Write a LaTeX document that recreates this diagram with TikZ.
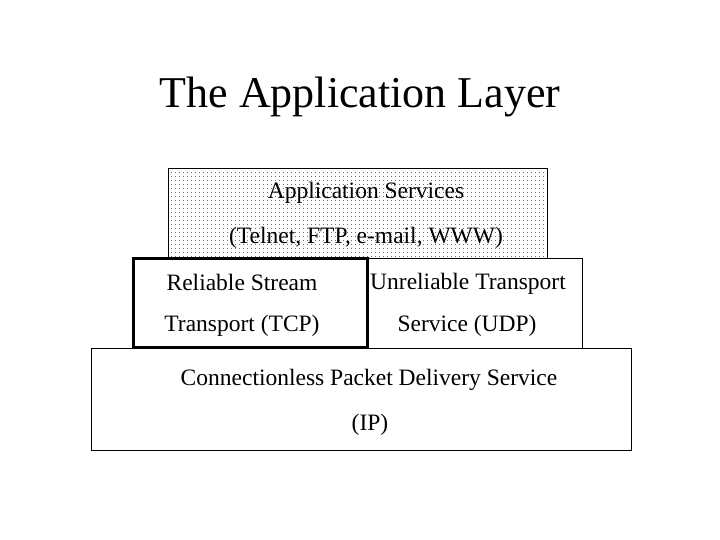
\documentclass[tikz,border=0pt]{standalone}
\usepackage{fontspec}
\setmainfont{Liberation Serif}
\usetikzlibrary{patterns.meta}
\begin{document}
\begin{tikzpicture}[x=1pt,y=-1pt,
  layerbox/.style={draw=black, line width=0.8pt, fill=white, inner sep=0pt, outer sep=0pt, anchor=north west},
  lbl/.style={inner sep=0pt, font=\fontsize{23.5}{28}\selectfont},
  ttl/.style={inner sep=0pt, font=\fontsize{44}{52}\selectfont}]
\useasboundingbox (0,0) rectangle (720,540);
\node[ttl] (title) at (360,97) {The Application Layer};
% application services box (dotted)
\node[layerbox, minimum width=379pt, minimum height=92pt,
  postaction={pattern={Dots[distance=4pt, radius=0.55pt]}, pattern color=black}] (app) at (168,168) {};
\node[lbl] (app1) at (366,193) {Application Services};
\node[lbl] (app2) at (366,238) {(Telnet, FTP, e-mail, WWW)};
% IP box
\node[layerbox, minimum width=540pt, minimum height=102pt] (ip) at (91,348) {};
% UDP box
\node[layerbox, minimum width=214pt, minimum height=90pt] (udp) at (368,258) {};
% TCP box
\node[layerbox, line width=3.5pt, minimum width=234pt, minimum height=89pt] (tcp) at (133.5,258.5) {};
\node[lbl] (tcp1) at (242,282) {Reliable Stream};
\node[lbl] (tcp2) at (242,326) {Transport (TCP)};
\node[lbl] (udp1) at (468,284) {Unreliable Transport};
\node[lbl] (udp2) at (467,326) {Service (UDP)};
\node[lbl] (ip1) at (369,380) {Connectionless Packet Delivery Service};
\node[lbl] (ip2) at (370,425) {(IP)};
\end{tikzpicture}
\end{document}
